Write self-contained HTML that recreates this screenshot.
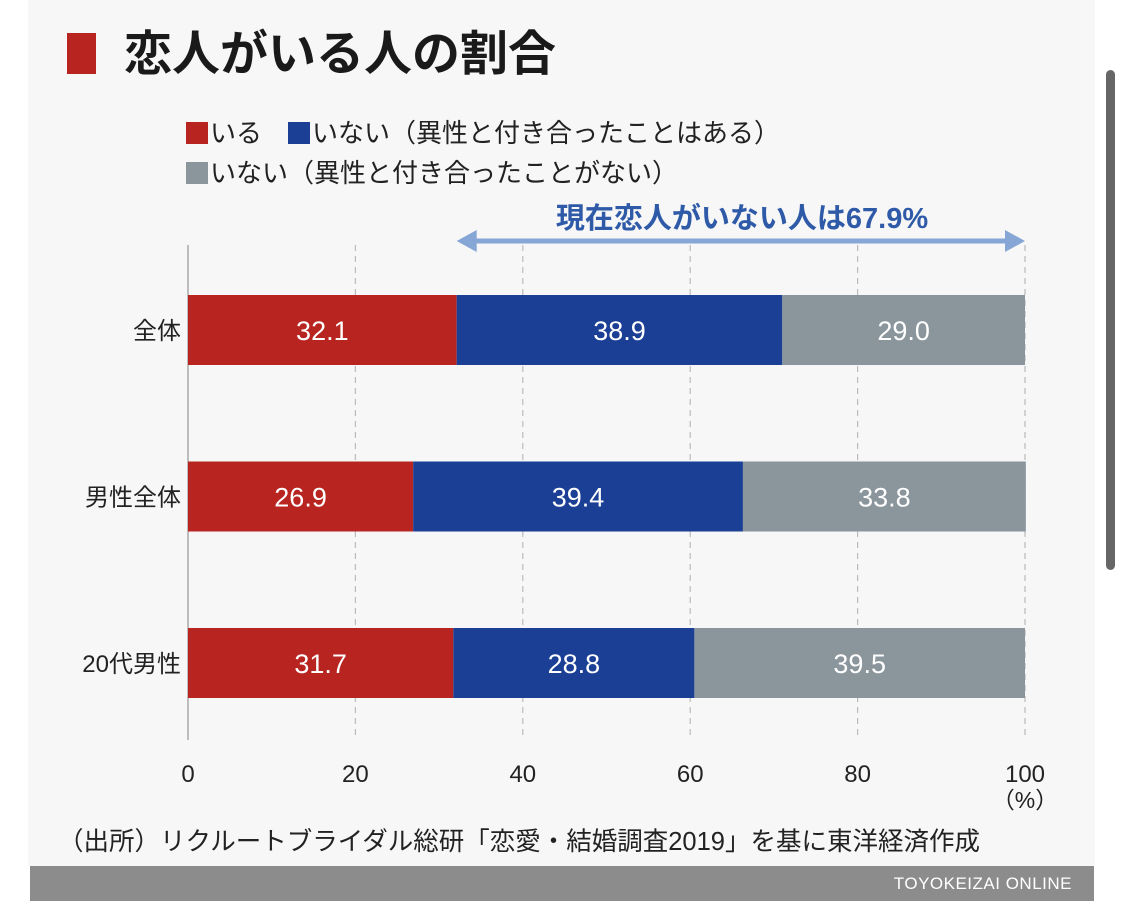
<!DOCTYPE html>
<html><head><meta charset="utf-8"><style>
body{margin:0;width:1125px;height:909px;background:#fff;overflow:hidden;font-family:"Liberation Sans","Noto Sans CJK JP",sans-serif;position:relative}
.panel{position:absolute;left:28px;top:0;width:1067px;height:866px;background:#f7f7f7}
.foot{position:absolute;left:30px;top:866px;width:1064px;height:35px;background:#8c8c8c;color:#fff;font-size:17px;text-align:right;line-height:35px;box-sizing:border-box;padding-right:22px;letter-spacing:0.5px}
.t{position:absolute;white-space:nowrap;color:#222}
.sq{display:inline-block;width:22px;height:22px;vertical-align:-2px;margin-right:2px}
.sb{position:absolute;left:1106px;top:70px;width:9px;height:500px;background:#666;border-radius:5px}
</style></head><body>
<div class="panel"></div>
<div class="t" style="left:67px;top:14px;font-size:48px;font-weight:bold;color:#1a1a1a"><span style="display:inline-block;width:29px;height:41px;background:#b82520;vertical-align:-4px;margin-right:28px"></span>恋人がいる人の割合</div>
<div class="t" style="left:186px;top:113px;font-size:26px"><span><span class="sq" style="background:#b82520"></span>いる</span>　<span><span class="sq" style="background:#1a3f95"></span>いない（異性と付き合ったことはある）</span></div>
<div class="t" style="left:186px;top:153px;font-size:26px"><span><span class="sq" style="background:#8a959c"></span>いない（異性と付き合ったことがない）</span></div>
<svg id="c" width="1125" height="909" style="position:absolute;left:0;top:0"></svg>
<div class="t" style="left:58px;top:821px;font-size:25.5px">（出所）リクルートブライダル総研「恋愛・結婚調査2019」を基に東洋経済作成</div>
<div class="foot">TOYOKEIZAI ONLINE</div>
<div class="sb"></div>
<script>
const categories=["全体","男性全体","20代男性"];
const iru=[32.1,26.9,31.7];
const inaiAri=[38.9,39.4,28.8];
const inaiNai=[29.0,33.8,39.5];
const ticks=[0,20,40,60,80,100];
const annotation=67.9;
const colors=["#b82520","#1a3f95","#8a959c"];
const svg=document.getElementById('c');const NS="http://www.w3.org/2000/svg";
const x=v=>188+v*(1025-188)/100;
const y=i=>295+i*166.5;const bh=70;
function mk(t,a,p){const e=document.createElementNS(NS,t);for(const k in a)e.setAttribute(k,a[k]);(p||svg).appendChild(e);return e;}
ticks.forEach(t=>{if(t>0&&t<100){const l=mk('line',{x1:x(t),x2:x(t),y1:245,y2:740,stroke:'#bbb','stroke-width':1.2,'stroke-dasharray':'6,5'});}
 const tx=mk('text',{x:x(t),y:782,'text-anchor':'middle','font-size':24,fill:'#222'});tx.textContent=t;});
const pc=mk('text',{x:x(100),y:808,'text-anchor':'middle','font-size':23,fill:'#222'});pc.textContent='（%）';


const ax=mk('line',{x1:x(0),x2:x(0),y1:245,y2:740,stroke:'#aaa','stroke-width':1.5});


const rl=mk('line',{x1:x(100),x2:x(100),y1:245,y2:740,stroke:'#bbb','stroke-width':1.2,'stroke-dasharray':'6,5'});


categories.forEach((c,i)=>{const vals=[iru[i],inaiAri[i],inaiNai[i]];let acc=0;
 const lb=mk('text',{x:181,y:y(i)+bh/2+9,'text-anchor':'end','font-size':24,fill:'#222'});lb.textContent=c;
 vals.forEach((v,j)=>{const r=mk('rect',{x:x(acc),y:y(i),width:x(acc+v)-x(acc),height:bh,fill:colors[j]});
  const t=mk('text',{x:(x(acc)+x(acc+v))/2,y:y(i)+bh/2+10,'text-anchor':'middle','font-size':27,fill:'#fff'});t.textContent=v.toFixed(1);acc+=v;});});
const ay=241,ax0=x(100-annotation),ax1=x(100);
const al=mk('line',{x1:ax0+10,x2:ax1-10,y1:ay,y2:ay,stroke:'#86a6d6','stroke-width':5});


mk('polygon',{points:`${ax0},${ay} ${ax0+20},${ay-11} ${ax0+20},${ay+11}`,fill:'#86a6d6'});
mk('polygon',{points:`${ax1},${ay} ${ax1-20},${ay-11} ${ax1-20},${ay+11}`,fill:'#86a6d6'});
const at=mk('text',{x:742,y:228,'text-anchor':'middle','font-size':29,'font-weight':'bold',fill:'#2f5aa8'});at.textContent='現在恋人がいない人は'+annotation+'%';


</script>
</body></html>
